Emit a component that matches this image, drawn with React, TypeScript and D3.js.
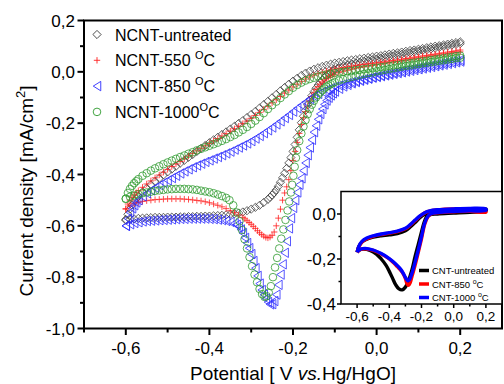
import * as d3 from 'd3'

// main plot: cyclic voltammograms of NCNT samples (markers only), [potential V, current mA/cm2]
const UNTREATED_FWD: [number, number][] = [
  [-0.6, -0.575], [-0.595, -0.555], [-0.59, -0.535], [-0.585, -0.519], [-0.58, -0.505], [-0.575, -0.494],
  [-0.57, -0.485], [-0.56, -0.468], [-0.55, -0.453], [-0.54, -0.44], [-0.53, -0.427], [-0.52, -0.415],
  [-0.51, -0.402], [-0.5, -0.39], [-0.49, -0.379], [-0.48, -0.368], [-0.47, -0.356], [-0.46, -0.345],
  [-0.45, -0.333], [-0.44, -0.322], [-0.43, -0.31], [-0.42, -0.298], [-0.41, -0.287], [-0.4, -0.276],
  [-0.39, -0.265], [-0.38, -0.255], [-0.37, -0.244], [-0.36, -0.234], [-0.35, -0.223], [-0.34, -0.212],
  [-0.33, -0.201], [-0.32, -0.19], [-0.31, -0.178], [-0.3, -0.166], [-0.29, -0.154], [-0.28, -0.141],
  [-0.27, -0.128], [-0.26, -0.115], [-0.25, -0.101], [-0.24, -0.088], [-0.23, -0.074], [-0.22, -0.061],
  [-0.21, -0.048], [-0.2, -0.036], [-0.19, -0.025], [-0.18, -0.014], [-0.17, -0.005], [-0.16, 0.003],
  [-0.15, 0.01], [-0.14, 0.016], [-0.13, 0.021], [-0.12, 0.026], [-0.11, 0.03], [-0.1, 0.034],
  [-0.09, 0.037], [-0.08, 0.04], [-0.07, 0.043], [-0.06, 0.046], [-0.05, 0.048], [-0.04, 0.051],
  [-0.03, 0.053], [-0.02, 0.056], [-0.01, 0.058], [0, 0.061], [0.01, 0.063], [0.02, 0.066], [0.03, 0.069],
  [0.04, 0.072], [0.05, 0.074], [0.06, 0.077], [0.07, 0.08], [0.08, 0.083], [0.09, 0.085], [0.1, 0.088],
  [0.11, 0.091], [0.12, 0.094], [0.13, 0.097], [0.14, 0.1], [0.15, 0.102], [0.16, 0.105], [0.17, 0.108],
  [0.18, 0.111], [0.19, 0.114], [0.2, 0.117],
]
const UNTREATED_REV: [number, number][] = [
  [0.2, 0.11], [0.19, 0.107], [0.18, 0.104], [0.17, 0.101], [0.16, 0.098], [0.15, 0.095], [0.14, 0.092],
  [0.13, 0.089], [0.12, 0.086], [0.11, 0.083], [0.1, 0.08], [0.09, 0.077], [0.08, 0.074], [0.07, 0.071],
  [0.06, 0.068], [0.05, 0.065], [0.04, 0.062], [0.03, 0.059], [0.02, 0.056], [0.01, 0.053], [0, 0.05],
  [-0.01, 0.047], [-0.02, 0.044], [-0.03, 0.041], [-0.04, 0.037], [-0.05, 0.034], [-0.06, 0.03],
  [-0.07, 0.026], [-0.08, 0.021], [-0.09, 0.015], [-0.1, 0.008], [-0.105, 0.003], [-0.11, -0.002],
  [-0.115, -0.008], [-0.12, -0.015], [-0.125, -0.023], [-0.13, -0.032], [-0.135, -0.041], [-0.14, -0.052],
  [-0.145, -0.064], [-0.15, -0.078], [-0.155, -0.093], [-0.16, -0.11], [-0.165, -0.129], [-0.17, -0.15],
  [-0.175, -0.173], [-0.18, -0.198], [-0.185, -0.226], [-0.19, -0.255], [-0.195, -0.283], [-0.2, -0.31],
  [-0.205, -0.334], [-0.21, -0.355], [-0.215, -0.376], [-0.22, -0.395], [-0.225, -0.413], [-0.23, -0.43],
  [-0.235, -0.446], [-0.24, -0.46], [-0.245, -0.471], [-0.25, -0.48], [-0.255, -0.489], [-0.26, -0.497],
  [-0.27, -0.509], [-0.28, -0.52], [-0.29, -0.528], [-0.3, -0.535], [-0.31, -0.541], [-0.32, -0.546],
  [-0.33, -0.55], [-0.34, -0.553], [-0.35, -0.555], [-0.36, -0.557], [-0.37, -0.559], [-0.38, -0.56],
  [-0.39, -0.561], [-0.4, -0.562], [-0.41, -0.562], [-0.42, -0.563], [-0.43, -0.563], [-0.44, -0.564],
  [-0.45, -0.564], [-0.46, -0.565], [-0.47, -0.565], [-0.48, -0.566], [-0.49, -0.566], [-0.5, -0.566],
  [-0.51, -0.567], [-0.52, -0.567], [-0.53, -0.567], [-0.54, -0.568], [-0.55, -0.569], [-0.56, -0.57],
  [-0.57, -0.571], [-0.58, -0.573], [-0.59, -0.575], [-0.6, -0.578],
]
const T550_FWD: [number, number][] = [
  [-0.6, -0.535], [-0.595, -0.515], [-0.59, -0.5], [-0.585, -0.489], [-0.58, -0.48], [-0.575, -0.471],
  [-0.57, -0.463], [-0.56, -0.45], [-0.55, -0.437], [-0.54, -0.425], [-0.53, -0.413], [-0.52, -0.402],
  [-0.51, -0.391], [-0.5, -0.38], [-0.49, -0.369], [-0.48, -0.359], [-0.47, -0.349], [-0.46, -0.339],
  [-0.45, -0.328], [-0.44, -0.318], [-0.43, -0.308], [-0.42, -0.298], [-0.41, -0.288], [-0.4, -0.279],
  [-0.39, -0.269], [-0.38, -0.26], [-0.37, -0.25], [-0.36, -0.241], [-0.35, -0.231], [-0.34, -0.222],
  [-0.33, -0.212], [-0.32, -0.202], [-0.31, -0.192], [-0.3, -0.181], [-0.29, -0.17], [-0.28, -0.158],
  [-0.27, -0.146], [-0.26, -0.134], [-0.25, -0.121], [-0.24, -0.109], [-0.23, -0.096], [-0.22, -0.083],
  [-0.21, -0.071], [-0.2, -0.059], [-0.19, -0.048], [-0.18, -0.037], [-0.17, -0.028], [-0.16, -0.02],
  [-0.15, -0.013], [-0.14, -0.007], [-0.13, -0.002], [-0.12, 0.003], [-0.11, 0.007], [-0.1, 0.011],
  [-0.09, 0.014], [-0.08, 0.017], [-0.07, 0.02], [-0.06, 0.022], [-0.05, 0.025], [-0.04, 0.027],
  [-0.03, 0.029], [-0.02, 0.031], [-0.01, 0.033], [0, 0.035], [0.01, 0.037], [0.02, 0.039], [0.03, 0.042],
  [0.04, 0.044], [0.05, 0.047], [0.06, 0.049], [0.07, 0.052], [0.08, 0.054], [0.09, 0.057], [0.1, 0.059],
  [0.11, 0.062], [0.12, 0.064], [0.13, 0.067], [0.14, 0.069], [0.15, 0.072], [0.16, 0.074], [0.17, 0.077],
  [0.18, 0.079], [0.19, 0.082], [0.2, 0.085],
]
const T550_REV: [number, number][] = [
  [0.2, 0.078], [0.19, 0.076], [0.18, 0.074], [0.17, 0.071], [0.16, 0.069], [0.15, 0.066], [0.14, 0.064],
  [0.13, 0.061], [0.12, 0.059], [0.11, 0.056], [0.1, 0.054], [0.09, 0.051], [0.08, 0.049], [0.07, 0.046],
  [0.06, 0.044], [0.05, 0.041], [0.04, 0.039], [0.03, 0.036], [0.02, 0.034], [0.01, 0.031], [0, 0.029],
  [-0.01, 0.026], [-0.02, 0.023], [-0.03, 0.02], [-0.04, 0.017], [-0.05, 0.014], [-0.06, 0.01],
  [-0.07, 0.006], [-0.08, 0.002], [-0.09, -0.003], [-0.1, -0.009], [-0.105, -0.012], [-0.11, -0.016],
  [-0.115, -0.021], [-0.12, -0.026], [-0.125, -0.032], [-0.13, -0.04], [-0.135, -0.048], [-0.14, -0.058],
  [-0.145, -0.069], [-0.15, -0.082], [-0.155, -0.096], [-0.16, -0.113], [-0.165, -0.133], [-0.17, -0.155],
  [-0.175, -0.179], [-0.18, -0.205], [-0.185, -0.24], [-0.19, -0.275], [-0.195, -0.31], [-0.2, -0.345],
  [-0.205, -0.385], [-0.21, -0.42], [-0.215, -0.448], [-0.22, -0.472], [-0.225, -0.5], [-0.23, -0.535],
  [-0.235, -0.57], [-0.24, -0.6], [-0.245, -0.624], [-0.25, -0.637], [-0.255, -0.644], [-0.26, -0.647],
  [-0.265, -0.645], [-0.27, -0.64], [-0.275, -0.634], [-0.28, -0.627], [-0.285, -0.619], [-0.29, -0.61],
  [-0.295, -0.602], [-0.3, -0.594], [-0.305, -0.587], [-0.31, -0.58], [-0.315, -0.573], [-0.32, -0.567],
  [-0.33, -0.558], [-0.34, -0.549], [-0.35, -0.541], [-0.36, -0.533], [-0.37, -0.526], [-0.38, -0.52],
  [-0.39, -0.515], [-0.4, -0.51], [-0.41, -0.506], [-0.42, -0.503], [-0.43, -0.501], [-0.44, -0.499],
  [-0.45, -0.497], [-0.46, -0.496], [-0.47, -0.495], [-0.48, -0.495], [-0.49, -0.495], [-0.5, -0.495],
  [-0.51, -0.496], [-0.52, -0.497], [-0.53, -0.498], [-0.54, -0.5], [-0.55, -0.502], [-0.56, -0.505],
  [-0.57, -0.509], [-0.58, -0.514], [-0.59, -0.522], [-0.6, -0.533],
]
const T850_FWD: [number, number][] = [
  [-0.6, -0.6], [-0.595, -0.572], [-0.59, -0.548], [-0.585, -0.532], [-0.58, -0.52], [-0.575, -0.509],
  [-0.57, -0.5], [-0.56, -0.485], [-0.55, -0.473], [-0.54, -0.462], [-0.53, -0.452], [-0.52, -0.442],
  [-0.51, -0.432], [-0.5, -0.423], [-0.49, -0.414], [-0.48, -0.405], [-0.47, -0.396], [-0.46, -0.388],
  [-0.45, -0.38], [-0.44, -0.372], [-0.43, -0.365], [-0.42, -0.358], [-0.41, -0.351], [-0.4, -0.345],
  [-0.39, -0.338], [-0.38, -0.332], [-0.37, -0.325], [-0.36, -0.318], [-0.35, -0.311], [-0.34, -0.303],
  [-0.33, -0.295], [-0.32, -0.287], [-0.31, -0.279], [-0.3, -0.27], [-0.29, -0.26], [-0.28, -0.25],
  [-0.27, -0.239], [-0.26, -0.228], [-0.25, -0.217], [-0.24, -0.205], [-0.23, -0.193], [-0.22, -0.18],
  [-0.21, -0.168], [-0.2, -0.155], [-0.19, -0.142], [-0.18, -0.13], [-0.17, -0.118], [-0.16, -0.106],
  [-0.15, -0.095], [-0.14, -0.086], [-0.13, -0.078], [-0.12, -0.07], [-0.11, -0.064], [-0.1, -0.058],
  [-0.09, -0.053], [-0.08, -0.048], [-0.07, -0.044], [-0.06, -0.04], [-0.05, -0.036], [-0.04, -0.032],
  [-0.03, -0.028], [-0.02, -0.025], [-0.01, -0.021], [0, -0.018], [0.01, -0.014], [0.02, -0.011],
  [0.03, -0.007], [0.04, -0.004], [0.05, 0], [0.06, 0.003], [0.07, 0.007], [0.08, 0.01], [0.09, 0.013],
  [0.1, 0.016], [0.11, 0.019], [0.12, 0.022], [0.13, 0.025], [0.14, 0.028], [0.15, 0.031], [0.16, 0.034],
  [0.17, 0.037], [0.18, 0.04], [0.19, 0.043], [0.2, 0.046],
]
const T850_REV: [number, number][] = [
  [0.2, 0.04], [0.19, 0.037], [0.18, 0.034], [0.17, 0.031], [0.16, 0.028], [0.15, 0.025], [0.14, 0.022],
  [0.13, 0.019], [0.12, 0.016], [0.11, 0.013], [0.1, 0.01], [0.09, 0.007], [0.08, 0.004], [0.07, 0.001],
  [0.06, -0.002], [0.05, -0.005], [0.04, -0.008], [0.03, -0.011], [0.02, -0.014], [0.01, -0.017],
  [0, -0.02], [-0.01, -0.023], [-0.02, -0.027], [-0.03, -0.031], [-0.04, -0.035], [-0.05, -0.04],
  [-0.06, -0.045], [-0.07, -0.051], [-0.08, -0.057], [-0.09, -0.066], [-0.1, -0.077], [-0.105, -0.084],
  [-0.11, -0.092], [-0.115, -0.101], [-0.12, -0.112], [-0.125, -0.127], [-0.13, -0.145], [-0.135, -0.164],
  [-0.14, -0.185], [-0.145, -0.21], [-0.15, -0.235], [-0.155, -0.265], [-0.16, -0.295], [-0.165, -0.325],
  [-0.17, -0.355], [-0.175, -0.385], [-0.18, -0.415], [-0.185, -0.44], [-0.19, -0.47], [-0.195, -0.5],
  [-0.2, -0.53], [-0.205, -0.57], [-0.21, -0.61], [-0.215, -0.66], [-0.22, -0.705], [-0.225, -0.75],
  [-0.23, -0.79], [-0.235, -0.83], [-0.24, -0.868], [-0.245, -0.893], [-0.25, -0.905], [-0.255, -0.906],
  [-0.26, -0.897], [-0.265, -0.884], [-0.27, -0.868], [-0.275, -0.85], [-0.28, -0.825], [-0.285, -0.795],
  [-0.29, -0.765], [-0.295, -0.737], [-0.3, -0.71], [-0.305, -0.687], [-0.31, -0.667], [-0.315, -0.647],
  [-0.32, -0.628], [-0.325, -0.614], [-0.33, -0.603], [-0.335, -0.596], [-0.34, -0.59], [-0.35, -0.585],
  [-0.36, -0.581], [-0.37, -0.578], [-0.38, -0.576], [-0.39, -0.574], [-0.4, -0.573], [-0.41, -0.572],
  [-0.42, -0.572], [-0.43, -0.572], [-0.44, -0.572], [-0.45, -0.572], [-0.46, -0.573], [-0.47, -0.573],
  [-0.48, -0.574], [-0.49, -0.575], [-0.5, -0.576], [-0.51, -0.577], [-0.52, -0.578], [-0.53, -0.579],
  [-0.54, -0.58], [-0.55, -0.581], [-0.56, -0.583], [-0.57, -0.586], [-0.58, -0.589], [-0.59, -0.594],
  [-0.6, -0.6],
]
const T1000_FWD: [number, number][] = [
  [-0.6, -0.495], [-0.595, -0.472], [-0.59, -0.456], [-0.585, -0.444], [-0.58, -0.434], [-0.575, -0.426],
  [-0.57, -0.418], [-0.56, -0.405], [-0.55, -0.395], [-0.54, -0.385], [-0.53, -0.376], [-0.52, -0.368],
  [-0.51, -0.36], [-0.5, -0.353], [-0.49, -0.346], [-0.48, -0.339], [-0.47, -0.332], [-0.46, -0.326],
  [-0.45, -0.319], [-0.44, -0.313], [-0.43, -0.306], [-0.42, -0.3], [-0.41, -0.294], [-0.4, -0.288],
  [-0.39, -0.282], [-0.38, -0.276], [-0.37, -0.269], [-0.36, -0.262], [-0.35, -0.254], [-0.34, -0.246],
  [-0.33, -0.236], [-0.32, -0.226], [-0.31, -0.215], [-0.3, -0.203], [-0.29, -0.19], [-0.28, -0.176],
  [-0.27, -0.161], [-0.26, -0.145], [-0.25, -0.13], [-0.24, -0.116], [-0.23, -0.102], [-0.22, -0.088],
  [-0.21, -0.075], [-0.2, -0.062], [-0.19, -0.051], [-0.18, -0.042], [-0.17, -0.034], [-0.16, -0.028],
  [-0.15, -0.023], [-0.14, -0.018], [-0.13, -0.014], [-0.12, -0.011], [-0.11, -0.008], [-0.1, -0.005],
  [-0.09, -0.002], [-0.08, 0], [-0.07, 0.002], [-0.06, 0.004], [-0.05, 0.006], [-0.04, 0.008],
  [-0.03, 0.01], [-0.02, 0.012], [-0.01, 0.014], [0, 0.016], [0.01, 0.018], [0.02, 0.02], [0.03, 0.023],
  [0.04, 0.025], [0.05, 0.027], [0.06, 0.029], [0.07, 0.032], [0.08, 0.034], [0.09, 0.036], [0.1, 0.038],
  [0.11, 0.041], [0.12, 0.043], [0.13, 0.046], [0.14, 0.048], [0.15, 0.051], [0.16, 0.053], [0.17, 0.056],
  [0.18, 0.058], [0.19, 0.061], [0.2, 0.063],
]
const T1000_REV: [number, number][] = [
  [0.2, 0.055], [0.19, 0.053], [0.18, 0.05], [0.17, 0.048], [0.16, 0.045], [0.15, 0.043], [0.14, 0.04],
  [0.13, 0.038], [0.12, 0.035], [0.11, 0.033], [0.1, 0.03], [0.09, 0.028], [0.08, 0.025], [0.07, 0.023],
  [0.06, 0.02], [0.05, 0.017], [0.04, 0.014], [0.03, 0.011], [0.02, 0.008], [0.01, 0.005], [0, 0.002],
  [-0.01, -0.002], [-0.02, -0.005], [-0.03, -0.008], [-0.04, -0.012], [-0.05, -0.016], [-0.06, -0.02],
  [-0.07, -0.024], [-0.08, -0.029], [-0.09, -0.034], [-0.1, -0.04], [-0.105, -0.044], [-0.11, -0.048],
  [-0.115, -0.053], [-0.12, -0.058], [-0.125, -0.065], [-0.13, -0.072], [-0.135, -0.08], [-0.14, -0.09],
  [-0.145, -0.1], [-0.15, -0.113], [-0.155, -0.128], [-0.16, -0.145], [-0.165, -0.165], [-0.17, -0.188],
  [-0.175, -0.213], [-0.18, -0.24], [-0.185, -0.27], [-0.19, -0.305], [-0.193, -0.335], [-0.196, -0.37],
  [-0.199, -0.405], [-0.202, -0.44], [-0.205, -0.47], [-0.209, -0.505], [-0.213, -0.54], [-0.218, -0.577],
  [-0.223, -0.614], [-0.228, -0.65], [-0.233, -0.688], [-0.238, -0.725], [-0.243, -0.762], [-0.248, -0.8],
  [-0.253, -0.835], [-0.258, -0.86], [-0.263, -0.874], [-0.268, -0.877], [-0.274, -0.866], [-0.28, -0.846],
  [-0.286, -0.82], [-0.292, -0.79], [-0.298, -0.757], [-0.304, -0.722], [-0.31, -0.688], [-0.316, -0.652],
  [-0.322, -0.616], [-0.328, -0.582], [-0.335, -0.548], [-0.343, -0.52], [-0.352, -0.5], [-0.36, -0.491],
  [-0.37, -0.484], [-0.38, -0.478], [-0.39, -0.473], [-0.4, -0.469], [-0.41, -0.466], [-0.42, -0.463],
  [-0.43, -0.46], [-0.44, -0.458], [-0.45, -0.457], [-0.46, -0.456], [-0.47, -0.456], [-0.48, -0.456],
  [-0.49, -0.457], [-0.5, -0.458], [-0.51, -0.46], [-0.52, -0.462], [-0.53, -0.464], [-0.54, -0.467],
  [-0.55, -0.47], [-0.56, -0.473], [-0.57, -0.477], [-0.58, -0.482], [-0.59, -0.487], [-0.6, -0.494],
]

// inset: CNT samples (lines), one full cycle each
const CNT_UNTREATED: [number, number][] = [
  [-0.6, -0.17], [-0.59, -0.145], [-0.57, -0.125], [-0.54, -0.112], [-0.5, -0.103], [-0.45, -0.097],
  [-0.4, -0.093], [-0.35, -0.087], [-0.3, -0.074], [-0.27, -0.058], [-0.24, -0.038], [-0.21, -0.016],
  [-0.18, -0.001], [-0.15, 0.006], [-0.1, 0.01], [0, 0.013], [0.1, 0.017], [0.2, 0.022],
  [0.2, 0.014], [0.1, 0.008], [0, 0.004], [-0.1, 0.0], [-0.15, -0.004], [-0.17, -0.015], [-0.185, -0.04],
  [-0.2, -0.08], [-0.22, -0.135], [-0.24, -0.19], [-0.26, -0.25], [-0.28, -0.295], [-0.3, -0.325],
  [-0.32, -0.337], [-0.34, -0.333], [-0.36, -0.315], [-0.38, -0.285], [-0.4, -0.255], [-0.42, -0.228],
  [-0.45, -0.2], [-0.48, -0.178], [-0.52, -0.162], [-0.56, -0.156], [-0.59, -0.162], [-0.6, -0.17],
]
const CNT_850: [number, number][] = [
  [-0.6, -0.17], [-0.59, -0.148], [-0.57, -0.125], [-0.54, -0.11], [-0.5, -0.099], [-0.45, -0.091],
  [-0.4, -0.085], [-0.35, -0.078], [-0.3, -0.066], [-0.27, -0.05], [-0.24, -0.03], [-0.21, -0.01],
  [-0.18, 0.005], [-0.15, 0.013], [-0.1, 0.018], [0, 0.022], [0.1, 0.022], [0.2, 0.012],
  [0.2, 0.008], [0.1, 0.012], [0, 0.01], [-0.1, 0.005], [-0.14, 0.0], [-0.16, -0.012], [-0.18, -0.045],
  [-0.2, -0.11], [-0.22, -0.17], [-0.24, -0.228], [-0.26, -0.28], [-0.27, -0.305], [-0.28, -0.317],
  [-0.29, -0.31], [-0.3, -0.287], [-0.32, -0.258], [-0.35, -0.234], [-0.4, -0.2], [-0.45, -0.178],
  [-0.5, -0.162], [-0.55, -0.155], [-0.58, -0.158], [-0.6, -0.17],
]
const CNT_1000: [number, number][] = [
  [-0.6, -0.17], [-0.59, -0.145], [-0.57, -0.122], [-0.54, -0.107], [-0.5, -0.097], [-0.45, -0.089],
  [-0.4, -0.083], [-0.35, -0.076], [-0.3, -0.063], [-0.27, -0.047], [-0.24, -0.027], [-0.21, -0.008],
  [-0.18, 0.006], [-0.15, 0.014], [-0.1, 0.019], [0, 0.023], [0.1, 0.025], [0.2, 0.022],
  [0.2, 0.016], [0.1, 0.014], [0, 0.011], [-0.1, 0.006], [-0.14, 0.001], [-0.16, -0.01], [-0.18, -0.04],
  [-0.2, -0.1], [-0.22, -0.16], [-0.24, -0.215], [-0.26, -0.265], [-0.275, -0.292], [-0.285, -0.297],
  [-0.295, -0.288], [-0.31, -0.268], [-0.33, -0.245], [-0.36, -0.222], [-0.4, -0.198], [-0.45, -0.176],
  [-0.5, -0.16], [-0.55, -0.153], [-0.58, -0.157], [-0.6, -0.17],
]

const X_TICKS = [-0.6, -0.4, -0.2, 0.0, 0.2]
const X_MINOR = [-0.7, -0.5, -0.3, -0.1, 0.1]
const Y_TICKS = [0.2, 0.0, -0.2, -0.4, -0.6, -0.8, -1.0]
const Y_MINOR = [0.1, -0.1, -0.3, -0.5, -0.7, -0.9]
const INSET_X_TICKS = [-0.6, -0.4, -0.2, 0.0, 0.2]
const INSET_X_MINOR = [-0.5, -0.3, -0.1, 0.1]
const INSET_Y_TICKS = [0.0, -0.2, -0.4]
const INSET_Y_MINOR = [-0.1, -0.3]

const FONT = '"Liberation Sans", Arial, Helvetica, sans-serif'
const fmt = (v: number) => v.toFixed(1).replace('.', ',').replace('-0,0', '0,0')

// custom d3 symbol types, size = half width
const diamond = { draw(c: any, r: number) { c.moveTo(0, -r); c.lineTo(r, 0); c.lineTo(0, r); c.lineTo(-r, 0); c.closePath() } }
const circle = { draw(c: any, r: number) { c.moveTo(r, 0); c.arc(0, 0, r, 0, 2 * Math.PI) } }
const plus = { draw(c: any, r: number) { c.moveTo(-r, 0); c.lineTo(r, 0); c.moveTo(0, -r); c.lineTo(0, r) } }
const triLeft = { draw(c: any, r: number) { c.moveTo(-r * 0.8, 0); c.lineTo(r * 0.8, -r); c.lineTo(r * 0.8, r); c.closePath() } }

const SERIES = [
  { key: 'u', label: 'NCNT-untreated', sup: '', tail: '', data: [UNTREATED_FWD, UNTREATED_REV], type: diamond, r: 4.1, color: '#3a3a3a' },
  { key: '550', label: 'NCNT-550 ', sup: 'O', tail: 'C', data: [T550_FWD, T550_REV], type: plus, r: 3.2, color: '#ff2020' },
  { key: '850', label: 'NCNT-850 ', sup: 'O', tail: 'C', data: [T850_FWD, T850_REV], type: triLeft, r: 4.7, color: '#2b2bff' },
  { key: '1000', label: 'NCNT-1000', sup: 'O', tail: 'C', data: [T1000_FWD, T1000_REV], type: circle, r: 3.8, color: '#2e9a2e' },
]

const INSET_SERIES = [
  { label: 'CNT-untreated', sup: '', tail: '', data: CNT_UNTREATED, color: '#000000' },
  { label: 'CNT-850 ', sup: 'o', tail: 'C', data: CNT_850, color: '#ff0000' },
  { label: 'CNT-1000 ', sup: 'o', tail: 'C', data: CNT_1000, color: '#0000ff' },
]

export default function App() {
  const x = d3.scaleLinear().domain([-0.7, 0.3]).range([84, 502])
  const y = d3.scaleLinear().domain([-1.0, 0.2]).range([328.5, 20.5])
  const ix = d3.scaleLinear().domain([-0.7, 0.3]).range([341, 502])
  const iy = d3.scaleLinear().domain([-0.4, 0.1]).range([304, 191.5])
  const line = d3.line<[number, number]>().x(d => ix(d[0])).y(d => iy(d[1])).curve(d3.curveCatmullRom)

  return (
    <svg width={504} height={384} style={{ position: 'absolute', left: 0, top: 0, background: '#fff' }} fontFamily={FONT}>
      <rect width={504} height={384} fill="#fff" />

      {/* markers */}
      {SERIES.map(s => {
        const sym = d3.symbol(s.type as any, s.r)()!
        return (
          <g key={s.key} fill="none" stroke={s.color} strokeWidth={0.8}>
            {s.data.flat().map((d, i) => (
              <path key={i} d={sym} transform={`translate(${x(d[0])},${y(d[1])})`} />
            ))}
          </g>
        )
      })}

      {/* main axes frame */}
      <rect x={84} y={20.5} width={418} height={308} fill="none" stroke="#000" strokeWidth={2} />
      {X_TICKS.map(t => (
        <g key={t}>
          <line x1={x(t)} x2={x(t)} y1={328.5} y2={335} stroke="#000" strokeWidth={2} />
          <text x={x(t)} y={354} fontSize={17} textAnchor="middle">{fmt(t)}</text>
        </g>
      ))}
      {X_MINOR.map(t => <line key={t} x1={x(t)} x2={x(t)} y1={328.5} y2={332.5} stroke="#000" strokeWidth={2} />)}
      {Y_TICKS.map(t => (
        <g key={t}>
          <line x1={77.5} x2={84} y1={y(t)} y2={y(t)} stroke="#000" strokeWidth={2} />
          <text x={75} y={y(t) + 6} fontSize={17} textAnchor="end">{fmt(t)}</text>
        </g>
      ))}
      {Y_MINOR.map(t => <line key={t} x1={80} x2={84} y1={y(t)} y2={y(t)} stroke="#000" strokeWidth={2} />)}

      <text x={293} y={380} fontSize={19} textAnchor="middle">
        Potential [ V <tspan fontStyle="italic">vs.</tspan>Hg/HgO]
      </text>
      <text transform="translate(33,191) rotate(-90)" fontSize={19} textAnchor="middle">
        Current density [mA/cm<tspan fontSize={13} dy={-8}>2</tspan><tspan dy={8}>]</tspan>
      </text>

      {/* legend */}
      {SERIES.map((s, i) => {
        const ly = 34.5 + i * 25.8
        const sym = d3.symbol(s.type as any, s.r)()!
        return (
          <g key={s.key}>
            <path d={sym} transform={`translate(97,${ly})`} fill="none" stroke={s.color} strokeWidth={0.9} />
            <text x={115} y={ly + 6} fontSize={16}>
              {s.label}
              {s.sup && <tspan fontSize={11} dy={-7}>{s.sup}</tspan>}
              {s.tail && <tspan dy={7}>{s.tail}</tspan>}
            </text>
          </g>
        )
      })}

      {/* inset */}
      <rect x={341} y={191.5} width={161} height={112.5} fill="#fff" stroke="#000" strokeWidth={1.5} />
      {INSET_SERIES.map(s => (
        <path key={s.label} d={line(s.data)!} fill="none" stroke={s.color} strokeWidth={3.4} strokeLinejoin="round" />
      ))}
      {INSET_X_TICKS.map(t => (
        <g key={t}>
          <line x1={ix(t)} x2={ix(t)} y1={304} y2={308} stroke="#000" strokeWidth={1.5} />
          <text x={ix(t)} y={320.5} fontSize={13.5} textAnchor="middle">{fmt(t)}</text>
        </g>
      ))}
      {INSET_X_MINOR.map(t => <line key={t} x1={ix(t)} x2={ix(t)} y1={304} y2={306.5} stroke="#000" strokeWidth={1.5} />)}
      {INSET_Y_TICKS.map(t => (
        <g key={t}>
          <line x1={337} x2={341} y1={iy(t)} y2={iy(t)} stroke="#000" strokeWidth={1.5} />
          <text x={336} y={iy(t) + 6} fontSize={17} textAnchor="end">{fmt(t)}</text>
        </g>
      ))}
      {INSET_Y_MINOR.map(t => <line key={t} x1={338.5} x2={341} y1={iy(t)} y2={iy(t)} stroke="#000" strokeWidth={1.5} />)}

      {INSET_SERIES.map((s, i) => {
        const ly = 270.5 + i * 13.5
        return (
          <g key={s.label}>
            <line x1={419} x2={429} y1={ly} y2={ly} stroke={s.color} strokeWidth={3.5} />
            <text x={432} y={ly + 3.5} fontSize={9.5}>
              {s.label}
              {s.sup && <tspan fontSize={7} dy={-4}>{s.sup}</tspan>}
              {s.tail && <tspan dy={4}>{s.tail}</tspan>}
            </text>
          </g>
        )
      })}
    </svg>
  )
}
